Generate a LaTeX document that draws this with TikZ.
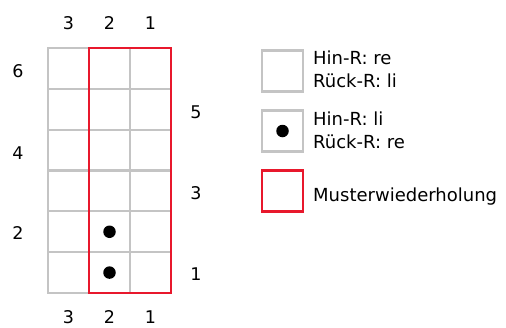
\documentclass[tikz,border=0pt]{standalone}
\usepackage{fontspec}
\setmainfont{DejaVu Sans}
\definecolor{gridgray}{HTML}{C4C4C4}
\definecolor{repred}{HTML}{E8182C}
\begin{document}
\begin{tikzpicture}[x=1pt,y=-1pt,
  cell/.style={draw=gridgray, line width=2.2pt, minimum width=41pt, minimum height=40.83pt, inner sep=0, outer sep=0},
  legbox/.style={draw=gridgray, line width=2.2pt, minimum width=41pt, minimum height=41pt, inner sep=0, outer sep=0},
  redbox/.style={draw=repred, line width=2.2pt},
  lbl/.style={font=\fontsize{17.5}{20}\selectfont, inner sep=0, anchor=base},
  stitchdot/.style={circle, fill=black, minimum size=12.5pt, inner sep=0},
  legtext/.style={font=\fontsize{18}{22.5}\selectfont, align=left, anchor=west, inner sep=0}]
\useasboundingbox (0,0) rectangle (506,327);
% grid cells: column c (1 = right), row r (1 = bottom)
\foreach \c/\x in {1/150.5,2/109.5,3/68.5}{
  \foreach \r in {1,...,6}{
    \node[cell] (c\c r\r) at (\x,{293-40.83*(\r-0.5)}) {};
  }
}
% pattern repeat frame
\draw[redbox] (c2r6.north west) rectangle (c1r1.south east);
% dots
\node[stitchdot] (d1) at (c2r1) {};
\node[stitchdot] (d2) at (c2r2) {};
% column numbers
\foreach \c/\x in {1/150.5,2/109.5,3/68.5}{
  \node[lbl] (top\c) at (\x,29.4) {\c};
  \node[lbl] (bot\c) at (\x,323.4) {\c};
}
% row numbers
\foreach \r/\y in {6/77.4,4/159.4,2/239.4}{
  \node[lbl] (left\r) at (18,\y) {\r};
}
\foreach \r/\y in {5/118.4,3/199.4,1/280.4}{
  \node[lbl] (right\r) at (196,\y) {\r};
}
% legend
\node[legbox] (lg1) at (282.5,71) {};
\node[legtext] (lt1) at (313,69.5) {Hin-R: re\\Rück-R: li};
\node[legbox] (lg2) at (282.5,131) {};
\node[stitchdot] (ld) at (lg2) {};
\node[legtext] (lt2) at (313,130.5) {Hin-R: li\\Rück-R: re};
\node[legbox, draw=repred] (lg3) at (282.5,191) {};
\node[legtext, anchor=base west] (lt3) at (313,201) {Musterwiederholung};
\end{tikzpicture}
\end{document}
